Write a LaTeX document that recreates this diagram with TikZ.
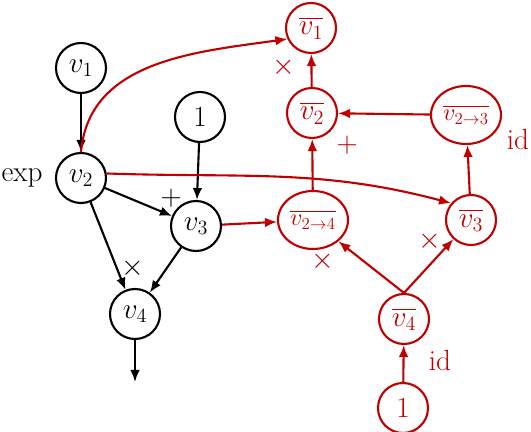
\documentclass[tikz,border=0pt]{standalone}
\usepackage{amsmath}
\usepackage{amssymb}
\usetikzlibrary{arrows.meta,shapes.geometric}
\definecolor{adjred}{RGB}{192,0,0}
\tikzset{
  prim/.style={circle,draw,line width=1.5pt,minimum size=1.25cm,inner sep=0pt,font=\huge},
  adj/.style={prim,draw=adjred,text=adjred},
  adjwide/.style={adj,ellipse,minimum width=1.75cm,minimum height=1.45cm,font=\LARGE},
  flow/.style={-{Latex[length=3mm,width=2.4mm]},line width=1.5pt},
  op/.style={font=\huge}
}
\begin{document}
\begin{tikzpicture}
\useasboundingbox (0,0) rectangle (13.275,10.8);
% primal graph
\node[prim] (v1) at (2.025,9.1) {$v_1$};
\node[prim] (v2) at (2.025,6.35) {$v_2$};
\node[prim] (one) at (5.0,7.875) {$1$};
\node[prim] (v3) at (4.9,5.15) {$v_3$};
\node[prim] (v4) at (3.375,2.95) {$v_4$};
\coordinate (out) at (3.375,1.25);
\node[op] (exp) at (0.55,6.35) {exp};
\node[op] (plus) at (4.275,5.85) {$+$};
\node[op] (times) at (3.325,4.1) {$\times$};
\draw[flow] (v1) -- (v2);
\draw[flow] (one) -- (v3);
\draw[flow] (v2) -- (v3);
\draw[flow] (v2) -- (v4);
\draw[flow] (v3) -- (v4);
\draw[flow] (v4) -- (out);
% adjoint graph
\begin{scope}[adjred]
\node[adj] (b1) at (7.775,10.1) {$\overline{v_1}$};
\node[adj] (b2) at (7.8,7.975) {$\overline{v_2}$};
\node[adjwide] (b23) at (11.65,7.925) {$\overline{v_{2\to3}}$};
\node[adj] (b3) at (11.775,5.3) {$\overline{v_3}$};
\node[adjwide] (b24) at (7.825,5.3) {$\overline{v_{2\to4}}$};
\node[adj] (b4) at (10.1,2.825) {$\overline{v_4}$};
\node[adj] (bone) at (10.075,0.6) {$1$};
\node[op] (t1) at (7.1,9.125) {$\times$};
\node[op] (p2) at (8.675,7.175) {$+$};
\node[op] (id1) at (12.95,7.3) {id};
\node[op] (t2) at (8.075,4.275) {$\times$};
\node[op] (t3) at (10.75,4.775) {$\times$};
\node[op] (id2) at (11.0,1.775) {id};
\draw[flow] (v2.north) to [out=85,in=188] (b1.205);
\draw[flow] (v2.10) to [out=-2,in=165] (b3.140);
\draw[flow] (v3) -- (b24);
\draw[flow] (b24) -- (b2);
\draw[flow] (b2) -- (b1);
\draw[flow] (b23) -- (b2);
\draw[flow] (b3) -- (b23);
\draw[flow] (b4.north) -- (b24.-40);
\draw[flow] (b4.north) -- (b3);
\draw[flow] (bone) -- (b4);
\end{scope}
\end{tikzpicture}
\end{document}
